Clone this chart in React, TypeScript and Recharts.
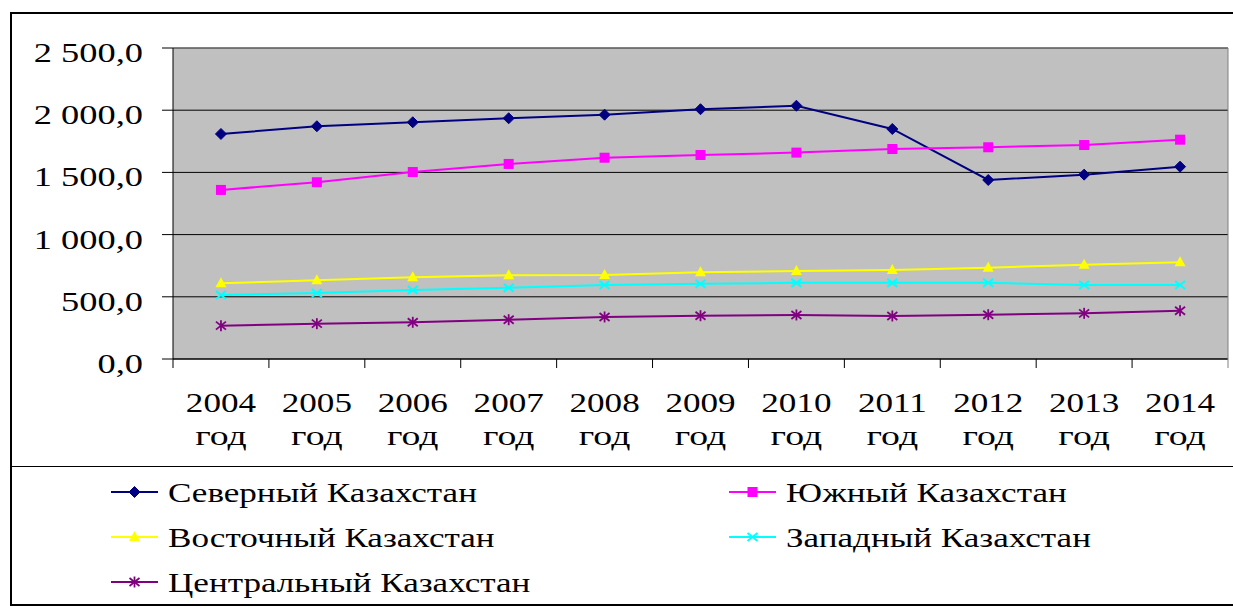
import React from "react";
import {
  LineChart,
  Line,
  XAxis,
  YAxis,
  CartesianGrid,
  ReferenceLine,
} from "recharts";

const years = ["2004", "2005", "2006", "2007", "2008", "2009", "2010", "2011", "2012", "2013", "2014"];
const yearSuffix = "год";
const yTicks = [0, 500, 1000, 1500, 2000, 2500];

const northern = [1809, 1871, 1903, 1935, 1964, 2008, 2036, 1849, 1439, 1482, 1546];
const southern = [1359, 1421, 1503, 1568, 1618, 1640, 1659, 1688, 1702, 1720, 1763];
const eastern = [609, 633, 657, 673, 675, 697, 707, 715, 734, 758, 777];
const western = [515, 531, 555, 573, 595, 605, 612, 612, 613, 595, 595];
const central = [268, 284, 295, 316, 338, 348, 354, 346, 356, 367, 388];

const data = years.map((year, i) => ({
  year,
  north: northern[i],
  south: southern[i],
  east: eastern[i],
  west: western[i],
  center: central[i],
}));

const series = [
  { key: "north", name: "Северный Казахстан", color: "#000080", shape: "diamond" },
  { key: "south", name: "Южный Казахстан", color: "#FF00FF", shape: "square" },
  { key: "east", name: "Восточный Казахстан", color: "#FFFF00", shape: "triangle" },
  { key: "west", name: "Западный Казахстан", color: "#00FFFF", shape: "cross" },
  { key: "center", name: "Центральный Казахстан", color: "#800080", shape: "star" },
];

const FONT = "'Liberation Serif', 'Times New Roman', serif";
const STRETCH = 1.3;
const STEP = 1055 / 11;

function fmt(v: number) {
  const s = String(v);
  const withSpace = s.length > 3 ? s.slice(0, s.length - 3) + " " + s.slice(-3) : s;
  return withSpace + ",0";
}

function Marker({ shape, color, cx, cy }: { shape: string; color: string; cx: number; cy: number }) {
  if (shape === "diamond") {
    return (
      <polygon
        points={`${cx},${cy - 5.5} ${cx + 5.5},${cy} ${cx},${cy + 5.5} ${cx - 5.5},${cy}`}
        fill={color}
        stroke={color}
      />
    );
  }
  if (shape === "square") {
    return <rect x={cx - 5} y={cy - 5} width={10} height={10} fill={color} />;
  }
  if (shape === "triangle") {
    return (
      <polygon
        points={`${cx},${cy - 6} ${cx + 5.5},${cy + 4} ${cx - 5.5},${cy + 4}`}
        fill={color}
      />
    );
  }
  if (shape === "cross") {
    return (
      <g stroke={color} strokeWidth={2}>
        <line x1={cx - 5} y1={cy - 4} x2={cx + 5} y2={cy + 4} />
        <line x1={cx - 5} y1={cy + 4} x2={cx + 5} y2={cy - 4} />
      </g>
    );
  }
  return (
    <g stroke={color} strokeWidth={1.8}>
      <line x1={cx - 5} y1={cy - 4} x2={cx + 5} y2={cy + 4} />
      <line x1={cx - 5} y1={cy + 4} x2={cx + 5} y2={cy - 4} />
      <line x1={cx} y1={cy - 5.5} x2={cx} y2={cy + 5.5} />
    </g>
  );
}

function XTick(props: any) {
  const { x, y, payload, index } = props;
  const last = index === years.length - 1;
  return (
    <g>
      <line x1={x - STEP / 2} y1={y} x2={x - STEP / 2} y2={y + 9} stroke="#000" />
      {last && <line x1={x + STEP / 2} y1={y} x2={x + STEP / 2} y2={y + 9} stroke="#808080" />}
      <text
        transform={`translate(${x},${y + 53}) scale(${STRETCH},1)`}
        textAnchor="middle"
        fontFamily={FONT}
        fontSize={27}
        fill="#000"
      >
        {payload.value}
      </text>
      <text
        transform={`translate(${x},${y + 86}) scale(1.4,1)`}
        textAnchor="middle"
        fontFamily={FONT}
        fontSize={27}
        fill="#000"
      >
        {yearSuffix}
      </text>
    </g>
  );
}

function YTick(props: any) {
  const { x, y, payload } = props;
  return (
    <g>
      <line x1={x - 11} y1={y} x2={x} y2={y} stroke="#000" />
      <text
        transform={`translate(${x - 30},${y + 14}) scale(${STRETCH},1)`}
        textAnchor="end"
        fontFamily={FONT}
        fontSize={28}
        fill="#000"
      >
        {fmt(payload.value)}
      </text>
    </g>
  );
}

function ChartLegend() {
  const cols = [111, 729];
  const rows = [492, 537, 582];
  return (
    <svg width={1233} height={611} style={{ position: "absolute", left: 0, top: 0 }}>
      {series.map((s, i) => {
        const lx = cols[i % 2];
        const ly = rows[Math.floor(i / 2)];
        return (
          <g key={s.key}>
            <line x1={lx} y1={ly} x2={lx + 47} y2={ly} stroke={s.color} strokeWidth={2} />
            <Marker shape={s.shape} color={s.color} cx={lx + 23.5} cy={ly} />
            <text
              transform={`translate(${lx + 57},${ly + 10}) scale(${STRETCH},1)`}
              fontFamily={FONT}
              fontSize={27}
              fill="#000"
            >
              {s.name}
            </text>
          </g>
        );
      })}
    </svg>
  );
}

export default function App() {
  return (
    <div style={{ position: "absolute", left: 0, top: 0, width: 1233, height: 611, background: "#fff", overflow: "hidden" }}>
      <div
        style={{
          position: "absolute",
          left: 10,
          top: 12,
          width: 1260,
          height: 590,
          borderLeft: "2px solid #000",
          borderTop: "2px solid #000",
          borderBottom: "2px solid #000",
        }}
      />
      <div style={{ position: "absolute", left: 10, top: 466, width: 1260, height: 0, borderTop: "1.5px solid #000" }} />
      <div style={{ position: "absolute", left: 0, top: 0 }}>
        <LineChart width={1233} height={466} data={data} margin={{ top: 48, right: 0, left: 0, bottom: 0 }}>
          <CartesianGrid fill="#C0C0C0" fillOpacity={1} stroke="#000" vertical={false} />
          <XAxis
            dataKey="year"
            interval={0}
            height={107}
            padding={{ left: STEP / 2, right: STEP / 2 }}
            axisLine={{ stroke: "#000" }}
            tickLine={false}
            tickSize={0}
            tickMargin={0}
            tick={(p: any) => <XTick {...p} />}
          />
          <YAxis
            domain={[0, 2500]}
            ticks={yTicks}
            interval={0}
            width={173}
            axisLine={{ stroke: "#000" }}
            tickLine={false}
            tickSize={0}
            tickMargin={0}
            tick={(p: any) => <YTick {...p} />}
          />
          <YAxis
            yAxisId="r"
            orientation="right"
            width={5}
            tick={false}
            tickLine={false}
            axisLine={{ stroke: "#808080" }}
          />
          <ReferenceLine y={2500} stroke="#808080" />
          {series.map((s) => (
            <Line
              key={s.key}
              dataKey={s.key}
              name={s.name}
              stroke={s.color}
              strokeWidth={2}
              isAnimationActive={false}
              activeDot={false}
              dot={(p: any) => <Marker key={`${s.key}-${p.index}`} shape={s.shape} color={s.color} cx={p.cx} cy={p.cy} />}
            />
          ))}
        </LineChart>
      </div>
      <ChartLegend />
    </div>
  );
}
